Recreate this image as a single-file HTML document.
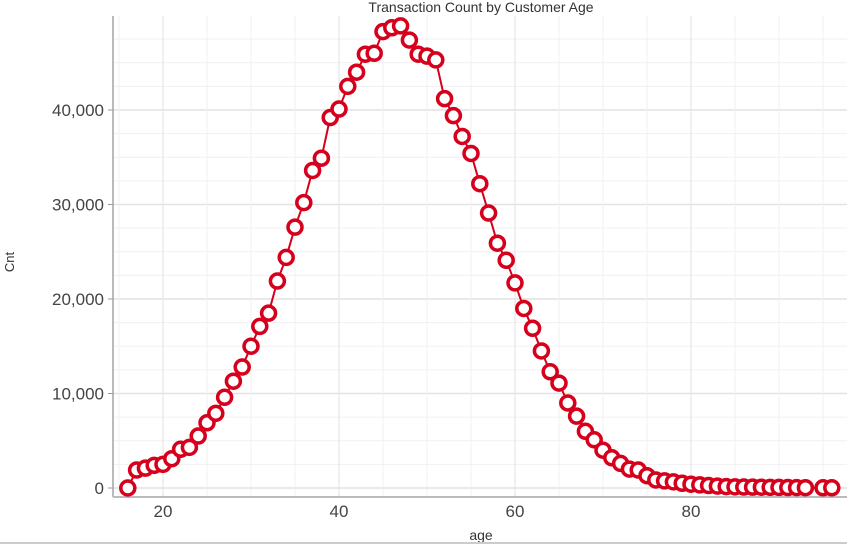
<!DOCTYPE html>
<html><head><meta charset="utf-8"><style>
body{margin:0;background:#fff;}
svg{display:block;font-family:"Liberation Sans",sans-serif;}
</style></head><body>
<svg id="chart" width="847" height="545">
<text x="481" y="12" text-anchor="middle" font-size="14" fill="#333">Transaction Count by Customer Age</text>
<g id="grid"></g>
<g id="axes"></g>
<text transform="translate(14,262) rotate(-90)" text-anchor="middle" font-size="13" fill="#333">Cnt</text>
<text x="481" y="540" text-anchor="middle" font-size="14" fill="#333">age</text>
<g id="series"></g>
<line x1="0" y1="543" x2="847" y2="543" stroke="#ccc" stroke-width="2"/>
</svg>
<script>
const ages=[16,17,18,19,20,21,22,23,24,25,26,27,28,29,30,31,32,33,34,35,36,37,38,39,40,41,42,43,44,45,46,47,48,49,50,51,52,53,54,55,56,57,58,59,60,61,62,63,64,65,66,67,68,69,70,71,72,73,74,75,76,77,78,79,80,81,82,83,84,85,86,87,88,89,90,91,92,93,95,96];
const counts=[0,1900,2100,2400,2500,3100,4100,4300,5500,6900,7900,9600,11300,12800,15000,17100,18500,21900,24400,27600,30200,33600,34900,39200,40100,42500,44000,45900,46000,48300,48700,48900,47400,45900,45700,45300,41200,39400,37200,35400,32200,29100,25900,24100,21700,19000,16900,14500,12300,11100,9000,7600,6000,5100,4000,3200,2600,2000,1900,1300,850,750,650,500,400,330,260,200,150,120,100,90,80,70,60,50,40,30,25,20];
const yTicks=[0,10000,20000,30000,40000];
const xTicks=[20,40,60,80];
const NS='http://www.w3.org/2000/svg';
const X=a=>163+(a-20)*8.8;
const Y=v=>488-v*0.00945;
const L=113,R=847,T=16,B=497;
function mk(t,at,p){const e=document.createElementNS(NS,t);for(const k in at)e.setAttribute(k,at[k]);p.appendChild(e);return e;}
const grid=document.getElementById('grid'),axes=document.getElementById('axes'),ser=document.getElementById('series');
for(let v=0;Y(v)>T;v+=2500){const l=mk('line',{x1:L,x2:R,y1:Y(v),y2:Y(v),stroke:v%10000===0?'#e2e2e2':'#f0f0f0','stroke-width':v%10000===0?1.5:1},grid);

}
for(let a=15;X(a)<R;a+=5){const l=mk('line',{x1:X(a),x2:X(a),y1:T,y2:B,stroke:a%20===0?'#e2e2e2':'#f0f0f0'},grid);

}
const ya=mk('line',{x1:L,x2:L,y1:T,y2:B,stroke:'#bbb','stroke-width':2},axes);


const xa=mk('line',{x1:L,x2:R,y1:B,y2:B,stroke:'#bbb','stroke-width':2},axes);


yTicks.forEach(v=>{mk('line',{x1:L-5,x2:L,y1:Y(v),y2:Y(v),stroke:'#999'},axes);
const t=mk('text',{x:L-9,y:Y(v)+6,'text-anchor':'end','font-size':17,fill:'#444'},axes);t.textContent=v.toLocaleString('en-US');

});
xTicks.forEach(a=>{const t=mk('text',{x:X(a),y:B+20,'text-anchor':'middle','font-size':17,fill:'#444'},axes);t.textContent=a;

});
const pl=mk('polyline',{points:ages.map((a,i)=>X(a)+','+Y(counts[i])).join(' '),fill:'none',stroke:'#d6001c','stroke-width':2},ser);


ages.forEach((a,i)=>{const c=mk('circle',{cx:X(a),cy:Y(counts[i]),r:7,fill:'#fff',stroke:'#d6001c','stroke-width':3.5},ser);

});
</script>
</body></html>
